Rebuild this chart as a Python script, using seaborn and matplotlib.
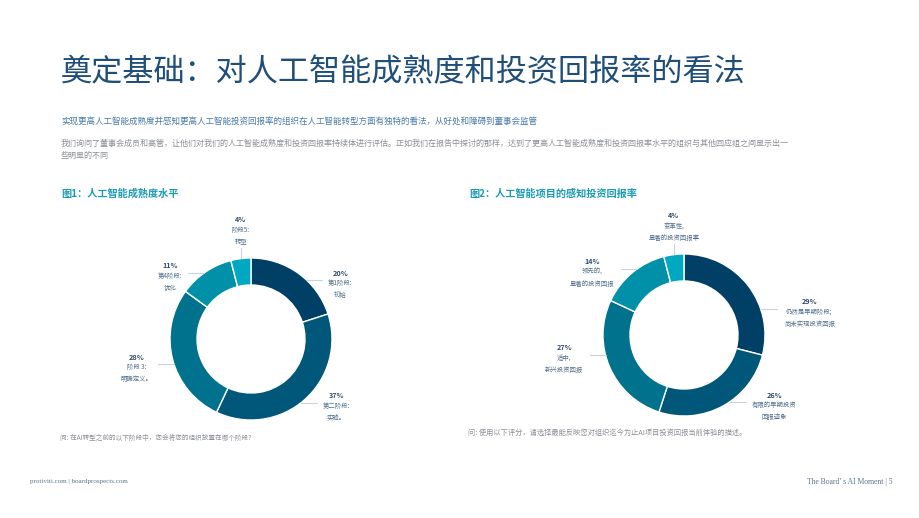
import numpy as np
import matplotlib
matplotlib.use("Agg")
import matplotlib.pyplot as plt
import seaborn as sns

## Dados dos dois gráficos ##
fig1_values = [20, 37, 28, 11, 4]
fig1_pct = ["20%", "37%", "28%", "11%", "4%"]
fig1_labels = ["第1阶段:\n初始", "第二阶段:\n实验。", "阶段 3:\n明确定义。", "第4阶段:\n优化", "阶段5:\n转型"]

fig2_values = [29, 26, 27, 14, 4]
fig2_pct = ["29%", "26%", "27%", "14%", "4%"]
fig2_labels = ["仍然是早期阶段;\n尚未实现投资回报", "有限的早期投资\n回报迹象", "适中,\n新兴投资回报",
               "领先的,\n显著的投资回报", "变革性,\n显著的投资回报率"]

colors = ["#003F66", "#005779", "#00728E", "#0090A8", "#00A9C1"]

sns.set_theme(style="white")
plt.rcParams['font.family'] = ['Noto Sans CJK SC', 'DejaVu Sans']

W, H = 920, 518
fig = plt.figure(figsize=(W / 100, H / 100), dpi=100)
ax = fig.add_axes([0, 0, 1, 1])

TXT = "#8A8F96"
LAB = "#4F6E8C"
LINE = "#C9D3DC"


def donut(values, pcts, labels, cx, cy, label_y):
    ## cx, cy em pixels (origem no topo) ##
    R, w = 81, 27
    ax.pie(values, colors=colors, startangle=90, counterclock=False, radius=R,
           center=(cx, H - cy), wedgeprops=dict(width=w, edgecolor="white", linewidth=1))
    # ângulos médios das fatias
    ang = 90 - np.cumsum([0] + values[:-1]) * 3.6 - np.array(values) * 1.8
    for a, p, lab, ly in zip(ang, pcts, labels, label_y):
        c = np.cos(np.radians(a))
        if abs(c) < 0.2:
            # linha vertical acima da fatia
            x0 = cx + R * c
            ax.plot([x0, x0], [H - (cy - R), H - (cy - R) + 10], color=LINE, lw=0.8)
            ax.text(x0, H - (cy - R) + 39, p, ha="center", va="center", fontsize=5.2,
                    fontweight="bold", color="#2E4D6B")
            ax.text(x0, H - (cy - R) + 22, lab, ha="center", va="center", fontsize=4.6,
                    color=LAB, linespacing=1.75)
            continue
        side = 1 if c > 0 else -1
        dy = ly - cy
        x0 = cx + side * np.sqrt(R ** 2 - dy ** 2)
        x1 = x0 + side * 16
        ax.plot([x0, x1], [H - ly, H - ly], color=LINE, lw=0.8)
        nchar = max(sum(2 if ord(ch) > 255 else 1 for ch in s) for s in lab.split("\n"))
        xc = x1 + side * (3 + nchar * 1.85)
        ax.text(xc, H - (ly - 7), p, ha="center", va="center", fontsize=5.2,
                fontweight="bold", color="#2E4D6B")
        ax.text(xc, H - (ly + 9), lab, ha="center", va="center", fontsize=4.6,
                color=LAB, linespacing=1.75)


donut(fig1_values, fig1_pct, fig1_labels, 251, 339, [280, 403, 364, 273, 0])
donut(fig2_values, fig2_pct, fig2_labels, 684, 335, [309, 402, 355, 269, 0])

ax.set_xlim(0, W)
ax.set_ylim(0, H)
ax.set_aspect("auto")
ax.axis("off")

## Textos do cabeçalho ##
ax.text(61, H - 73, "奠定基础：对人工智能成熟度和投资回报率的看法", fontsize=22.4, color="#1F4E79",
        fontweight="light", va="center", ha="left")
ax.text(61, H - 121, "实现更高人工智能成熟度并感知更高人工智能投资回报率的组织在人工智能转型方面有独特的看法，从好处和障碍到董事会监管",
        fontsize=6.15, color="#4A7AA8", va="center", ha="left")
ax.text(61, H - 143, "我们询问了董事会成员和高管，让他们对我们的人工智能成熟度和投资回报率持续体进行评估。正如我们在报告中探讨的那样，达到了更高人工智能成熟度和投资回报率水平的组织与其他回应组之间显示出一",
        fontsize=5.8, color=TXT, va="center", ha="left")
ax.text(61, H - 155, "些明显的不同", fontsize=5.8, color=TXT, va="center", ha="left")

ax.text(61, H - 194, "图1：人工智能成熟度水平", fontsize=7.3, color="#1A9BB5", fontweight="bold",
        va="center", ha="left")
ax.text(469, H - 194, "图2：人工智能项目的感知投资回报率", fontsize=7.3, color="#1A9BB5", fontweight="bold",
        va="center", ha="left")

ax.text(60, H - 438, "问: 在AI转型之前的以下阶段中，您会将您的组织放置在哪个阶段?", fontsize=4.8,
        color=TXT, va="center", ha="left")
ax.text(468, H - 433, "问: 使用以下评分，请选择最能反映您对组织迄今为止AI项目投资回报当前体验的描述。", fontsize=5.2,
        color=TXT, va="center", ha="left")

## Rodapé ##
ax.text(30, H - 482, "protiviti.com | boardprospects.com", fontsize=5, color="#5A7590",
        family="Liberation Serif", va="center", ha="left")
ax.text(893, H - 482, "The Board’ s AI Moment | 5", fontsize=5.5, color="#5A7590",
        family="Liberation Serif", va="center", ha="right")

fig.savefig("out.png", dpi=100, facecolor="white")
